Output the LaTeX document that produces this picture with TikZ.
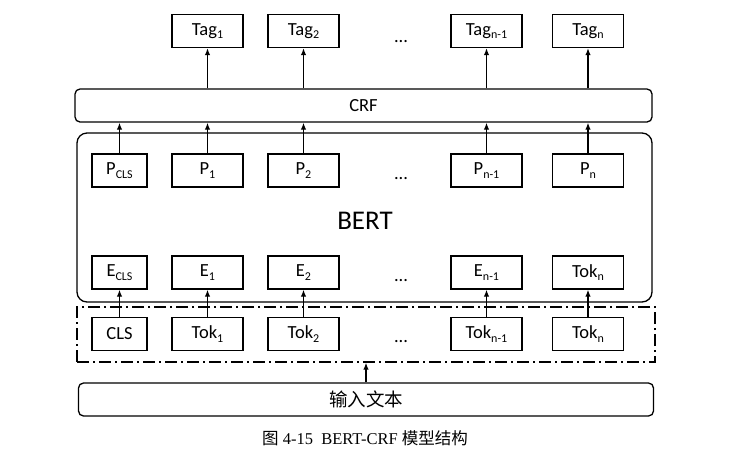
\documentclass[tikz,border=0pt]{standalone}
\usepackage{fontspec}
\setmainfont{Carlito}
\newfontfamily\cjkfont{Noto Sans CJK SC}
\newfontfamily\capserif{Liberation Serif}
\usetikzlibrary{arrows.meta}
\newcommand\sbx[1]{\raisebox{-0.4ex}{\fontsize{12}{12}\selectfont #1}}
\begin{document}
\begin{tikzpicture}[x=1pt,y=-1pt,
  every node/.style={font=\fontsize{18.5}{20}\selectfont, inner sep=0pt},
  box/.style={draw, line width=1.3pt, minimum width=71pt, minimum height=33pt},
  sbox/.style={box, minimum width=55pt},
  wide/.style={draw, line width=1.3pt, rounded corners=5pt, minimum height=33pt},
  arr/.style={line width=1.3pt, -{Latex[length=7pt,width=5.5pt]}},
  dotsnode/.style={anchor=center}
]
\useasboundingbox (0,0) rectangle (730,459);

% containers
\node[draw, line width=1.3pt, rounded corners=10pt, minimum width=575pt, minimum height=169pt] (bert) at (364.5,217.5) {};
\node (bertlabel) at (365,221) {\fontsize{27}{30}\selectfont BERT};
\node[wide, minimum width=577pt] (crf) at (363.5,105.5) {CRF};
\node[draw, line width=1.3pt, dash pattern=on 12pt off 4pt on 2pt off 4pt, minimum width=578pt, minimum height=55pt] (dash) at (366,334.5) {};
\node[wide, minimum width=575pt] (inp) at (366,399.5) {\cjkfont 输入文本};

% Tag row
\node[box] (tag1) at (207.5,31) {Tag\sbx{1}};
\node[box] (tag2) at (303.5,31) {Tag\sbx{2}};
\node[box] (tagn1) at (486.5,31) {Tag\sbx{n-1}};
\node[box] (tagn) at (588,31) {Tag\sbx{n}};
\node[dotsnode] (d1) at (401,42) {...};

% P row
\node[sbox] (p0) at (119.5,170.5) {P\sbx{CLS}};
\node[box] (p1) at (207.5,170.5) {P\sbx{1}};
\node[box] (p2) at (303.5,170.5) {P\sbx{2}};
\node[box] (pn1) at (486.5,170.5) {P\sbx{n-1}};
\node[box] (pn) at (588,170.5) {P\sbx{n}};
\node[dotsnode] (d2) at (401,179) {...};

% E row
\node[sbox] (e0) at (119.5,272.5) {E\sbx{CLS}};
\node[box] (e1) at (207.5,272.5) {E\sbx{1}};
\node[box] (e2) at (303.5,272.5) {E\sbx{2}};
\node[box] (en1) at (486.5,272.5) {E\sbx{n-1}};
\node[box] (en) at (588,272.5) {Tok\sbx{n}};
\node[dotsnode] (d3) at (401,281) {...};

% Tok row
\node[sbox] (t0) at (119.5,334) {CLS};
\node[box] (t1) at (207.5,334) {Tok\sbx{1}};
\node[box] (t2) at (303.5,334) {Tok\sbx{2}};
\node[box] (tn1) at (486.5,334) {Tok\sbx{n-1}};
\node[box] (tn) at (588,334) {Tok\sbx{n}};
\node[dotsnode] (d4) at (401,342) {...};

% arrows CRF -> Tag
\draw[arr] (crf.north -| tag1) -- (tag1.south);
\draw[arr] (crf.north -| tag2) -- (tag2.south);
\draw[arr] (crf.north -| tagn1) -- (tagn1.south);
\draw[arr] (crf.north -| tagn) -- (tagn.south);
% arrows P -> CRF
\foreach \n in {p0,p1,p2,pn1,pn}{
  \draw[arr] (\n.north) -- (\n.north |- crf.south);
}
% arrows Tok -> E
\draw[arr] (t0.north) -- (e0.south);
\draw[arr] (t1.north) -- (e1.south);
\draw[arr] (t2.north) -- (e2.south);
\draw[arr] (tn1.north) -- (en1.south);
\draw[arr] (tn.north) -- (en.south);
% input -> dashed
\draw[arr] (inp.north) -- (dash.south);

% caption
\node (cap) at (365,438) {\fontsize{16.5}{18}\selectfont\cjkfont 图\capserif{} 4-15\ \ BERT-CRF \cjkfont 模型结构};
\end{tikzpicture}
\end{document}
